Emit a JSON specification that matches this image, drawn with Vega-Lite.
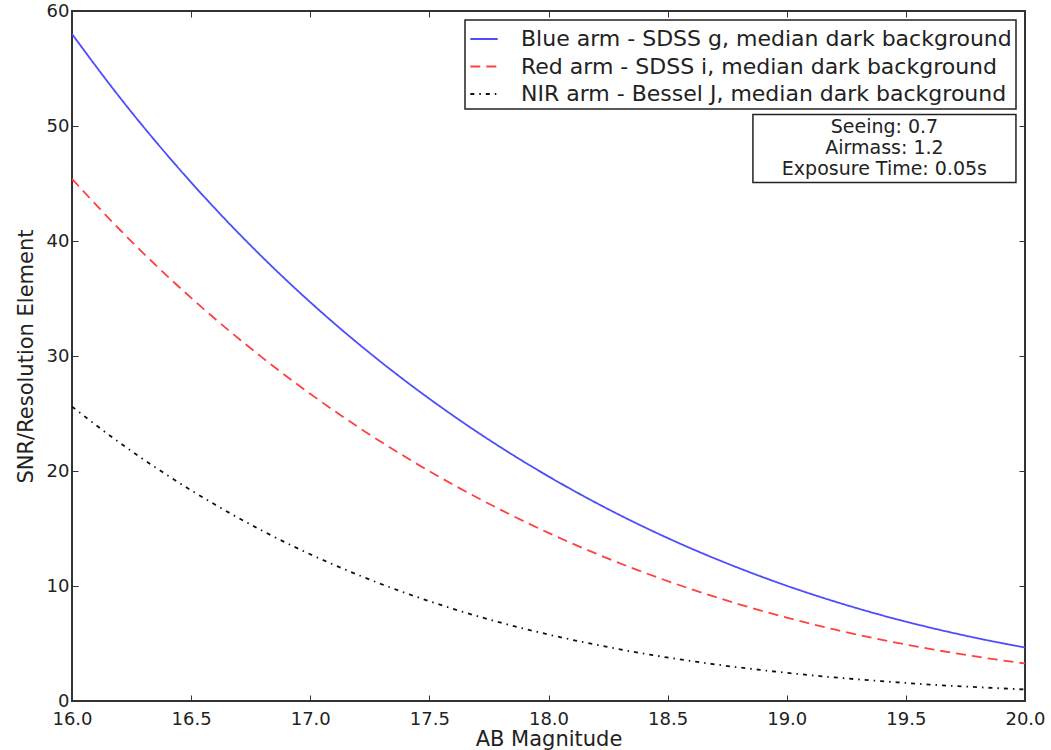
{
  "$schema": "https://vega.github.io/schema/vega-lite/v6.json",
  "width": 953,
  "height": 690,
  "autosize": {"type": "none"},
  "padding": {"left": 72, "top": 11, "right": 26, "bottom": 49},
  "background": "white",
  "datasets": {
    "snr": [
      {"m": 16.0, "snr": 58.00, "s": "Blue arm - SDSS g, median dark background"},
      {"m": 16.2, "snr": 52.50, "s": "Blue arm - SDSS g, median dark background"},
      {"m": 16.4, "snr": 47.46, "s": "Blue arm - SDSS g, median dark background"},
      {"m": 16.6, "snr": 42.83, "s": "Blue arm - SDSS g, median dark background"},
      {"m": 16.8, "snr": 38.58, "s": "Blue arm - SDSS g, median dark background"},
      {"m": 17.0, "snr": 34.68, "s": "Blue arm - SDSS g, median dark background"},
      {"m": 17.2, "snr": 31.10, "s": "Blue arm - SDSS g, median dark background"},
      {"m": 17.4, "snr": 27.82, "s": "Blue arm - SDSS g, median dark background"},
      {"m": 17.6, "snr": 24.81, "s": "Blue arm - SDSS g, median dark background"},
      {"m": 17.8, "snr": 22.05, "s": "Blue arm - SDSS g, median dark background"},
      {"m": 18.0, "snr": 19.53, "s": "Blue arm - SDSS g, median dark background"},
      {"m": 18.2, "snr": 17.23, "s": "Blue arm - SDSS g, median dark background"},
      {"m": 18.4, "snr": 15.14, "s": "Blue arm - SDSS g, median dark background"},
      {"m": 18.6, "snr": 13.25, "s": "Blue arm - SDSS g, median dark background"},
      {"m": 18.8, "snr": 11.55, "s": "Blue arm - SDSS g, median dark background"},
      {"m": 19.0, "snr": 10.02, "s": "Blue arm - SDSS g, median dark background"},
      {"m": 19.2, "snr": 8.66, "s": "Blue arm - SDSS g, median dark background"},
      {"m": 19.4, "snr": 7.45, "s": "Blue arm - SDSS g, median dark background"},
      {"m": 19.6, "snr": 6.39, "s": "Blue arm - SDSS g, median dark background"},
      {"m": 19.8, "snr": 5.46, "s": "Blue arm - SDSS g, median dark background"},
      {"m": 20.0, "snr": 4.65, "s": "Blue arm - SDSS g, median dark background"},
      {"m": 16.0, "snr": 45.40, "s": "Red arm - SDSS i, median dark background"},
      {"m": 16.2, "snr": 41.00, "s": "Red arm - SDSS i, median dark background"},
      {"m": 16.4, "snr": 36.95, "s": "Red arm - SDSS i, median dark background"},
      {"m": 16.6, "snr": 33.24, "s": "Red arm - SDSS i, median dark background"},
      {"m": 16.8, "snr": 29.84, "s": "Red arm - SDSS i, median dark background"},
      {"m": 17.0, "snr": 26.71, "s": "Red arm - SDSS i, median dark background"},
      {"m": 17.2, "snr": 23.84, "s": "Red arm - SDSS i, median dark background"},
      {"m": 17.4, "snr": 21.21, "s": "Red arm - SDSS i, median dark background"},
      {"m": 17.6, "snr": 18.81, "s": "Red arm - SDSS i, median dark background"},
      {"m": 17.8, "snr": 16.62, "s": "Red arm - SDSS i, median dark background"},
      {"m": 18.0, "snr": 14.62, "s": "Red arm - SDSS i, median dark background"},
      {"m": 18.2, "snr": 12.81, "s": "Red arm - SDSS i, median dark background"},
      {"m": 18.4, "snr": 11.18, "s": "Red arm - SDSS i, median dark background"},
      {"m": 18.6, "snr": 9.72, "s": "Red arm - SDSS i, median dark background"},
      {"m": 18.8, "snr": 8.41, "s": "Red arm - SDSS i, median dark background"},
      {"m": 19.0, "snr": 7.25, "s": "Red arm - SDSS i, median dark background"},
      {"m": 19.2, "snr": 6.22, "s": "Red arm - SDSS i, median dark background"},
      {"m": 19.4, "snr": 5.32, "s": "Red arm - SDSS i, median dark background"},
      {"m": 19.6, "snr": 4.53, "s": "Red arm - SDSS i, median dark background"},
      {"m": 19.8, "snr": 3.85, "s": "Red arm - SDSS i, median dark background"},
      {"m": 20.0, "snr": 3.26, "s": "Red arm - SDSS i, median dark background"},
      {"m": 16.0, "snr": 25.60, "s": "NIR arm - Bessel J, median dark background"},
      {"m": 16.2, "snr": 22.46, "s": "NIR arm - Bessel J, median dark background"},
      {"m": 16.4, "snr": 19.63, "s": "NIR arm - Bessel J, median dark background"},
      {"m": 16.6, "snr": 17.08, "s": "NIR arm - Bessel J, median dark background"},
      {"m": 16.8, "snr": 14.79, "s": "NIR arm - Bessel J, median dark background"},
      {"m": 17.0, "snr": 12.76, "s": "NIR arm - Bessel J, median dark background"},
      {"m": 17.2, "snr": 10.97, "s": "NIR arm - Bessel J, median dark background"},
      {"m": 17.4, "snr": 9.39, "s": "NIR arm - Bessel J, median dark background"},
      {"m": 17.6, "snr": 8.01, "s": "NIR arm - Bessel J, median dark background"},
      {"m": 17.8, "snr": 6.81, "s": "NIR arm - Bessel J, median dark background"},
      {"m": 18.0, "snr": 5.78, "s": "NIR arm - Bessel J, median dark background"},
      {"m": 18.2, "snr": 4.89, "s": "NIR arm - Bessel J, median dark background"},
      {"m": 18.4, "snr": 4.12, "s": "NIR arm - Bessel J, median dark background"},
      {"m": 18.6, "snr": 3.47, "s": "NIR arm - Bessel J, median dark background"},
      {"m": 18.8, "snr": 2.92, "s": "NIR arm - Bessel J, median dark background"},
      {"m": 19.0, "snr": 2.45, "s": "NIR arm - Bessel J, median dark background"},
      {"m": 19.2, "snr": 2.05, "s": "NIR arm - Bessel J, median dark background"},
      {"m": 19.4, "snr": 1.72, "s": "NIR arm - Bessel J, median dark background"},
      {"m": 19.6, "snr": 1.43, "s": "NIR arm - Bessel J, median dark background"},
      {"m": 19.8, "snr": 1.20, "s": "NIR arm - Bessel J, median dark background"},
      {"m": 20.0, "snr": 1.00, "s": "NIR arm - Bessel J, median dark background"}
    ],
    "box": [
      {"x1": 18.858, "x2": 19.962, "y1": 51.0, "y2": 45.09}
    ],
    "info": [
      {"xc": 19.41, "yc": 49.87, "t": "Seeing: 0.7"},
      {"xc": 19.41, "yc": 48.1, "t": "Airmass: 1.2"},
      {"xc": 19.41, "yc": 46.3, "t": "Exposure Time: 0.05s"}
    ]
  },
  "layer": [
    {
      "data": {"name": "snr"},
      "mark": {"type": "line", "strokeWidth": 1.8, "interpolate": "monotone", "clip": true},
      "encoding": {
        "x": {"field": "m", "type": "quantitative", "scale": {"domain": [16, 20], "nice": false, "zero": false},
          "axis": {"orient": "bottom", "values": [16, 16.5, 17, 17.5, 18, 18.5, 19, 19.5, 20], "format": ".1f", "title": "AB Magnitude", "labelPadding": 15, "titlePadding": 0, "labelFlush": false}},
        "y": {"field": "snr", "type": "quantitative", "scale": {"domain": [0, 60], "nice": false},
          "axis": {"orient": "left", "values": [0, 10, 20, 30, 40, 50, 60], "format": "d", "title": "SNR/Resolution Element", "labelPadding": 9, "titlePadding": 10, "labelFlush": false}},
        "color": {"field": "s", "type": "nominal",
          "scale": {"domain": ["Blue arm - SDSS g, median dark background", "Red arm - SDSS i, median dark background", "NIR arm - Bessel J, median dark background"],
                    "range": ["#4d4dff", "#ff4040", "#111111"]},
          "legend": {"title": null}},
        "strokeDash": {"field": "s", "type": "nominal",
          "scale": {"domain": ["Blue arm - SDSS g, median dark background", "Red arm - SDSS i, median dark background", "NIR arm - Bessel J, median dark background"],
                    "range": [[1, 0], [10, 6], [4, 5, 1.5, 5]]},
          "legend": {"title": null}}
      }
    },
    {
      "data": {"name": "box"},
      "mark": {"type": "rect", "fill": "white", "stroke": "#222", "strokeWidth": 1.5},
      "encoding": {
        "x": {"field": "x1", "type": "quantitative", "axis": {"orient": "top", "labels": false, "title": null, "values": [16, 16.5, 17, 17.5, 18, 18.5, 19, 19.5, 20]}},
        "x2": {"field": "x2"},
        "y": {"field": "y1", "type": "quantitative", "axis": {"orient": "right", "labels": false, "title": null, "values": [0, 10, 20, 30, 40, 50, 60]}},
        "y2": {"field": "y2"}
      }
    },
    {
      "data": {"name": "info"},
      "mark": {"type": "text", "fontSize": 19, "color": "#222", "align": "center", "baseline": "middle"},
      "encoding": {
        "x": {"field": "xc", "type": "quantitative", "axis": null},
        "y": {"field": "yc", "type": "quantitative", "axis": null},
        "text": {"field": "t"}
      }
    }
  ],
  "config": {
    "font": "DejaVu Sans",
    "view": {"stroke": "#333", "strokeWidth": 2},
    "axis": {"domain": false, "grid": false, "tickColor": "#333", "tickSize": -6, "tickWidth": 1, "labelFontSize": 18, "labelColor": "#222", "titleFontSize": 21, "titleFontWeight": "normal", "titleColor": "#222"},
    "legend": {"orient": "top-right", "offset": 9, "strokeColor": "#222", "strokeWidth": 1.5, "fillColor": "white", "padding": 4, "labelFontSize": 22, "labelColor": "#222", "labelLimit": 800, "symbolType": "stroke", "symbolSize": 750, "symbolStrokeWidth": 2, "labelOffset": 22, "rowPadding": 1.5}
  }
}
